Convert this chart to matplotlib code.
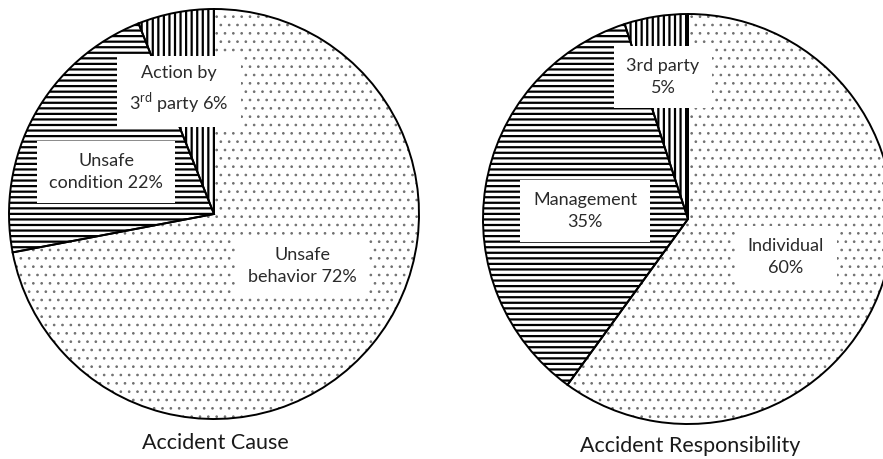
import matplotlib.pyplot as plt

plt.rcParams['font.family'] = ['Lato', 'DejaVu Sans']
plt.rcParams['mathtext.fontset'] = 'custom'
plt.rcParams['mathtext.rm'] = 'Lato'
plt.rcParams['hatch.linewidth'] = 1.6

# 数据
cause_labels = ['Action by\n3$^{\\mathrm{rd}}$ party 6%', 'Unsafe\ncondition 22%', 'Unsafe\nbehavior 72%']
cause_values = [6, 22, 72]
resp_labels = ['3rd party\n5%', 'Management\n35%', 'Individual\n60%']
resp_values = [5, 35, 60]

hatches = ['|||', '---', '..']
hatch_colors = ['black', 'black', '#707070']
hatch_widths = [1.6, 1.6, 0.7]

W, H = 883, 459
fig = plt.figure(figsize=(W / 100, H / 100), dpi=100)
ax = fig.add_axes([0, 0, 1, 1])


def draw_pie(values, labels, center, radius, label_pos, title, title_pos):
    # 先画带填充图案的扇形
    wedges, _ = ax.pie(values, center=center, radius=radius, startangle=90,
                       counterclock=True, frame=True,
                       wedgeprops=dict(facecolor='white', linewidth=0))
    for w, h, c, lw in zip(wedges, hatches, hatch_colors, hatch_widths):
        w.set_hatch(h)
        w.set_edgecolor(c)
        if hasattr(w, 'set_hatch_linewidth'):
            w.set_hatch_linewidth(lw)
    # 再画黑色轮廓
    ax.pie(values, center=center, radius=radius, startangle=90, counterclock=True,
           frame=True, wedgeprops=dict(fill=False, edgecolor='black', linewidth=1.4))
    for lab, (x, y) in zip(labels, label_pos):
        ax.text(x, H - y, lab, ha='center', va='center', fontsize=13,
                linespacing=1.45, color='#2a2a2a',
                bbox=dict(facecolor='white', edgecolor='none', pad=9))
    ax.text(title_pos[0], H - title_pos[1], title, ha='center', va='center',
            fontsize=15.5, color='#1a1a1a')


draw_pie(cause_values, cause_labels, (214, H - 214), 205,
         [(179, 90), (106, 172), (302, 266)], 'Accident Cause', (215, 443))
draw_pie(resp_values, resp_labels, (688, H - 219), 205,
         [(663, 77), (585, 211), (786, 257)], 'Accident Responsibility', (690, 446))

ax.set_xlim(0, W)
ax.set_ylim(0, H)
ax.set_aspect('equal')
ax.axis('off')

fig.savefig('out.png', dpi=100)
